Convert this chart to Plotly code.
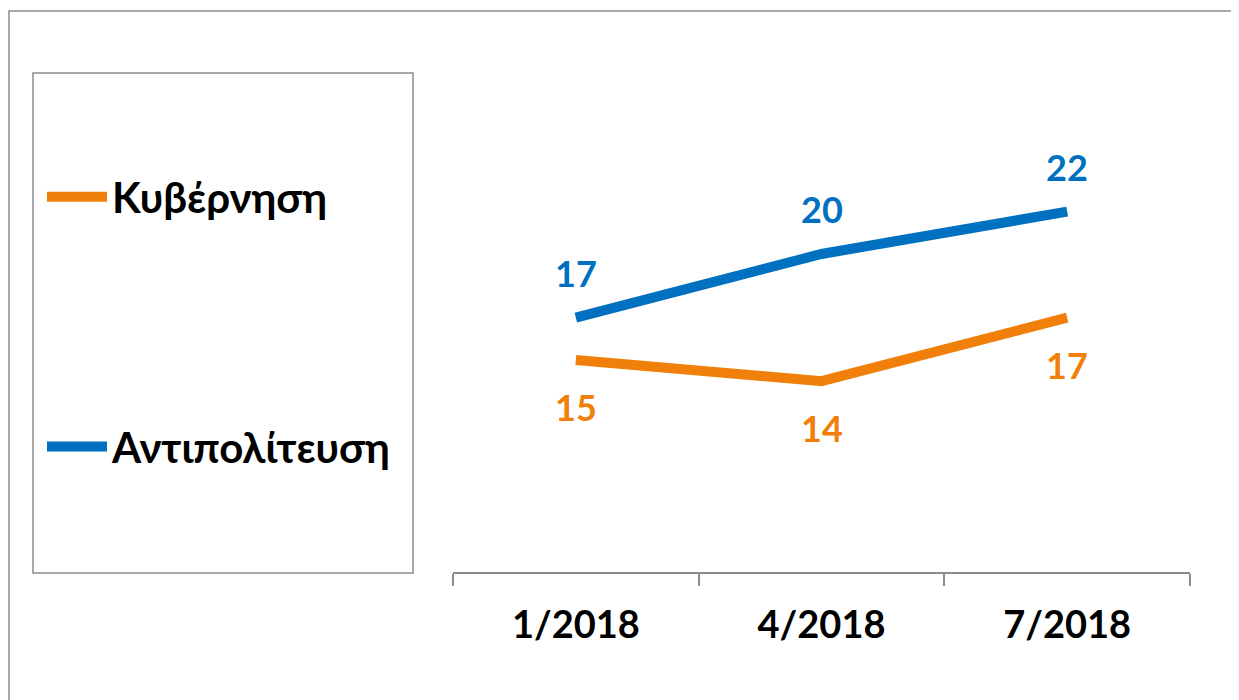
import plotly.graph_objects as go

categories = ["1/2018", "4/2018", "7/2018"]
gov_name = "Κυβέρνηση"
opp_name = "Αντιπολίτευση"
gov_values = [15, 14, 17]
opp_values = [17, 20, 22]

ORANGE = "#F0800A"
BLUE = "#0070C0"
GRAY = "#8C8C8C"
FONT = "Lato, 'Open Sans', 'Noto Sans', sans-serif"

OFF = 8  # page body margin
W, H = 1239 - OFF, 700 - OFF
L, R, T, B = 453 - OFF, 49, 42 - OFF, 128
PW, PH = W - L - R, H - T - B


def px(x):
    return (x - OFF - L) / PW


def py(y):
    return (H - B - (y - OFF)) / PH


fig = go.Figure()
fig.add_trace(go.Scatter(x=categories, y=gov_values, mode="lines", name=gov_name,
                         line=dict(color=ORANGE, width=10), legendgroup="g"))
fig.add_trace(go.Scatter(x=categories, y=opp_values, mode="lines", name=opp_name,
                         line=dict(color=BLUE, width=10), legendgroup="o"))

for c, v in zip(categories, gov_values):
    fig.add_annotation(x=c, y=v, text=str(v), showarrow=False, yshift=-47,
                       font=dict(color=ORANGE, size=36, family=FONT, weight="bold"))
for c, v in zip(categories, opp_values):
    fig.add_annotation(x=c, y=v, text=str(v), showarrow=False, yshift=45,
                       font=dict(color=BLUE, size=36, family=FONT, weight="bold"))

# outer frame
fig.add_shape(type="rect", xref="paper", yref="paper", x0=px(9), x1=px(1237), y0=py(710), y1=py(11),
              line=dict(color=GRAY, width=1.5), layer="below")
# legend box
fig.add_shape(type="rect", xref="paper", yref="paper", x0=px(33), x1=px(413), y0=py(573), y1=py(73),
              line=dict(color=GRAY, width=1.5), layer="below")

fig.update_layout(
    width=W, height=H,
    margin=dict(l=L, r=R, t=T, b=B),
    plot_bgcolor="white", paper_bgcolor="white",
    showlegend=True,
    legend=dict(x=px(42), y=py(163), xanchor="left", yanchor="top",
                font=dict(size=42, family=FONT, color="black", weight="bold"),
                traceorder="grouped", tracegroupgap=192, itemwidth=60,
                bgcolor="rgba(0,0,0,0)"),
    xaxis=dict(type="category", range=[-0.5, 2.5], showgrid=False, zeroline=False,
               showline=True, linecolor=GRAY, linewidth=2,
               ticks="outside", tickson="boundaries", ticklen=12, tickcolor=GRAY, tickwidth=2,
               ticklabelstandoff=18,
               tickfont=dict(size=38, family=FONT, color="black", weight="bold"),
               fixedrange=True),
    yaxis=dict(range=[5, 30], visible=False, showgrid=False, zeroline=False, fixedrange=True),
)

fig.write_html("out.html")
